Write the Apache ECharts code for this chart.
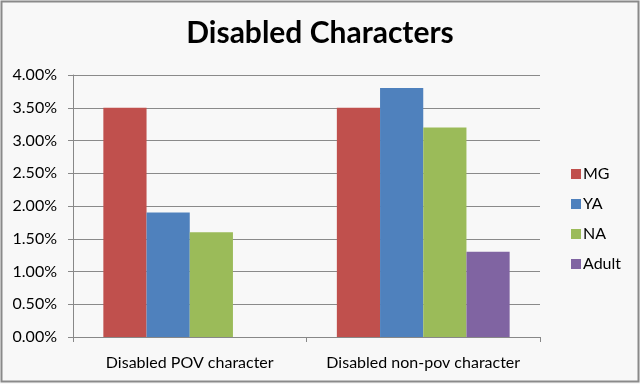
<!DOCTYPE html>
<html><head><meta charset="utf-8">
<script src="https://cdn.jsdelivr.net/npm/echarts@6/dist/echarts.min.js"></script>
<style>html,body{margin:0;padding:0;background:#f8f8f8}#c{width:640px;height:384px}</style>
</head><body><div id="c"></div>
<script>
const categories = ['Disabled POV character', 'Disabled non-pov character'];
const mg = [3.5, 3.5];
const ya = [1.9, 3.8];
const na = [1.6, 3.2];
const adult = [null, 1.3];
const seriesNames = ['MG', 'YA', 'NA', 'Adult'];
const colors = ['#C0504D', '#4F81BD', '#9BBB59', '#8064A2'];
const values = [mg, ya, na, adult];

const chart = echarts.init(document.getElementById('c'));
chart.setOption({
  backgroundColor: '#f8f8f8',
  animation: false,
  title: {
    text: 'Disabled Characters', left: 'center', top: 13,
    textStyle: { fontFamily: 'Lato', fontWeight: 'bold', fontSize: 30, color: '#000' }
  },
  legend: {
    orient: 'vertical', left: 566, top: 161, itemGap: 14,
    itemWidth: 10, itemHeight: 10, icon: 'rect',
    textStyle: { fontFamily: 'Lato', fontSize: 16, color: '#000', padding: [0, 0, 0, -3] },
    data: seriesNames
  },
  grid: { left: 73, top: 75, width: 467, height: 262 },
  xAxis: {
    type: 'category', data: categories,
    axisLine: { lineStyle: { color: '#888' } },
    axisTick: { show: true, length: 5, lineStyle: { color: '#888' } },
    axisLabel: { interval: 0, fontFamily: 'Lato', fontSize: 16, color: '#000', margin: 18 }
  },
  yAxis: {
    type: 'value', min: 0, max: 4, interval: 0.5,
    axisLine: { show: true, lineStyle: { color: '#888' } },
    axisTick: { show: true, length: 5, lineStyle: { color: '#888' } },
    splitLine: { lineStyle: { color: '#8a8a8a' } },
    axisLabel: { fontFamily: 'Lato', fontSize: 16, color: '#000', margin: 16,
      formatter: v => v.toFixed(2) + '%' }
  },
  series: seriesNames.map((n, i) => ({
    name: n, type: 'bar', data: values[i], barGap: '0%', barCategoryGap: '26%',
    itemStyle: { color: colors[i] }
  })),
  graphic: [{ type: 'rect', shape: { x: 1.5, y: 1.5, width: 637, height: 380 },
    style: { fill: 'none', stroke: '#8a8a8a', lineWidth: 2 }, silent: true }]
});
</script></body></html>
